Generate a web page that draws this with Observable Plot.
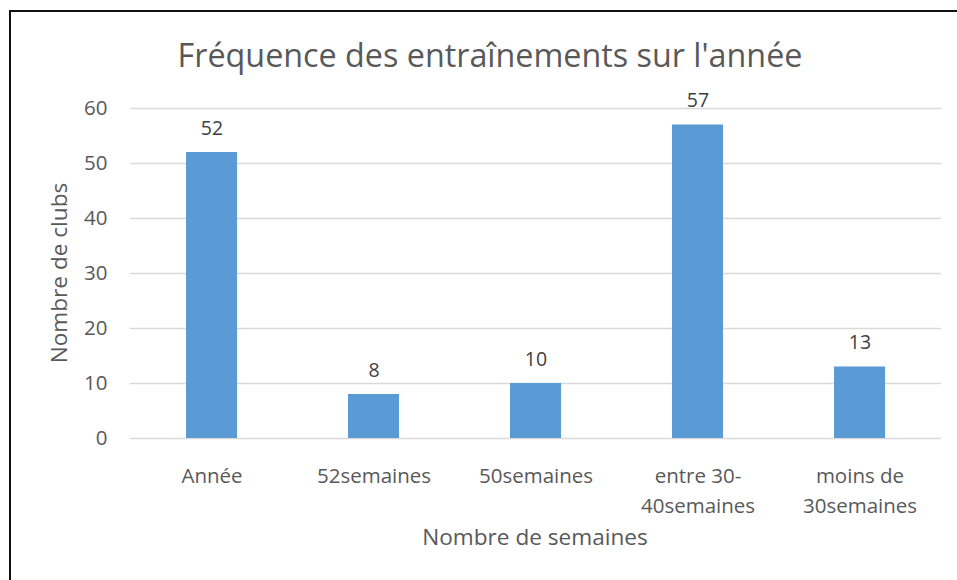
<!DOCTYPE html>
<html>
<head>
<meta charset="utf-8">
<script src="https://cdn.jsdelivr.net/npm/d3@7"></script>
<script src="https://cdn.jsdelivr.net/npm/@observablehq/plot@0.6"></script>
<style>
  html, body { margin: 0; padding: 0; background: #fff; overflow: hidden; }
  #wrap { position: relative; width: 957px; height: 580px; font-family: "Open Sans", sans-serif; color: #595959; }
  #border { position: absolute; left: 9px; top: 10px; width: 1000px; height: 700px; border-left: 2px solid #111; border-top: 2px solid #111; }
  #title { position: absolute; left: 0; width: 980px; top: 33px; text-align: center; font-size: 32.3px; line-height: 42px; white-space: nowrap; }
  #xlabel { position: absolute; left: 335px; width: 400px; top: 522px; text-align: center; font-size: 22.6px; line-height: 30px; white-space: nowrap; }
  #ylabel { position: absolute; left: 59px; top: 273px; transform: translate(-50%, -50%) rotate(-90deg); font-size: 22.6px; line-height: 30px; white-space: nowrap; }
  #chart { position: absolute; left: 0; top: 0; }
</style>
</head>
<body>
<div id="wrap">
  <div id="chart"></div>
  <div id="border"></div>
  <div id="title">Fréquence des entraînements sur l'année</div>
  <div id="xlabel">Nombre de semaines</div>
  <div id="ylabel">Nombre de clubs</div>
</div>
<script>
const categories = ["Année", "52semaines", "50semaines", "entre 30-\n40semaines", "moins de\n30semaines"];
const values = [52, 8, 10, 57, 13];
const yTicks = [0, 10, 20, 30, 40, 50, 60];

const data = categories.map((c, i) => ({cat: c, val: values[i]}));

const chart = Plot.plot({
  width: 957,
  height: 580,
  marginTop: 108,
  marginBottom: 142,
  marginLeft: 130,
  marginRight: 16,
  style: {fontFamily: "Open Sans, sans-serif", color: "#595959", background: "transparent", overflow: "visible"},
  x: {domain: categories, paddingInner: 0.685, paddingOuter: 0.3425},
  y: {domain: [0, 60]},
  marks: [
    Plot.gridY(yTicks, {stroke: "#d9d9d9", strokeOpacity: 1, strokeWidth: 1.4}),
    Plot.barY(data, {x: "cat", y: "val", fill: "#5B9BD5"}),
    Plot.text(data, {x: "cat", y: "val", text: d => String(d.val), dy: -18, lineAnchor: "bottom", fontSize: 19.5, fill: "#404040"}),
    Plot.axisY(yTicks, {tickSize: 0, tickPadding: 23, fontSize: 20.5, label: null}),
    Plot.axisX({tickSize: 0, tickPadding: 24, fontSize: 20.5, lineHeight: 1.43, label: null})
  ]
});
document.getElementById("chart").appendChild(chart);
</script>
</body>
</html>
